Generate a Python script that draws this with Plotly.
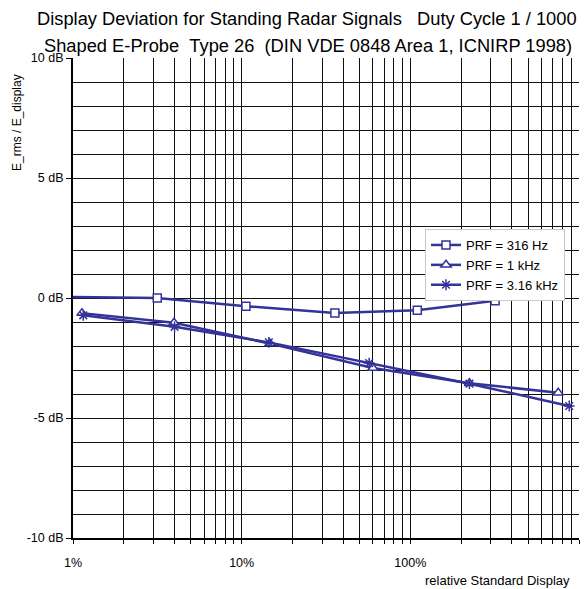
import plotly.graph_objects as go

# relative standard display (%) and display deviation (dB) per pulse repetition frequency
x_316hz = [0.316, 3.16, 10.6, 35.7, 110, 318]
y_316hz = [0.08, 0.0, -0.34, -0.62, -0.51, -0.11]

x_1khz = [1.13, 3.97, 14.7, 60, 224, 753]
y_1khz = [-0.63, -1.03, -1.9, -2.92, -3.55, -3.95]

x_316khz = [1.15, 4.0, 14.5, 57, 224, 875]
y_316khz = [-0.72, -1.2, -1.85, -2.71, -3.57, -4.5]

series_names = ["PRF = 316 Hz", "PRF = 1 kHz", "PRF = 3.16 kHz"]

x_tickvals = [1, 10, 100, 1000]
x_ticktext = ["1%", "10%", "100%", "1000%"]
x_minorvals = [m * d for d in (1, 10, 100) for m in range(2, 10)]

y_tickvals = [-10, -5, 0, 5, 10]
y_ticktext = ["-10 dB", "-5 dB", "0 dB", "5 dB", "10 dB"]
y_gridvals = list(range(-9, 10))

FONT = "Arial, Liberation Sans, sans-serif"
BLUE = "#333399"

fig = go.Figure()
fig.add_trace(go.Scatter(
    x=x_316hz, y=y_316hz, name=series_names[0], mode="lines+markers",
    line=dict(color=BLUE, width=2.5),
    marker=dict(symbol="square", size=8, color="white", line=dict(color=BLUE, width=1.5)),
))
fig.add_trace(go.Scatter(
    x=x_1khz, y=y_1khz, name=series_names[1], mode="lines+markers",
    line=dict(color=BLUE, width=2.5),
    marker=dict(symbol="triangle-up", size=9, color="white", line=dict(color=BLUE, width=1.5)),
))
fig.add_trace(go.Scatter(
    x=x_316khz, y=y_316khz, name=series_names[2], mode="lines+markers",
    line=dict(color=BLUE, width=2.5),
    marker=dict(symbol="asterisk-open", size=9, color=BLUE, line=dict(color=BLUE, width=1.5)),
))

L, R, T, B = 73, 7, 58, 51
W, H = 586, 589
pw, ph = W - L - R, H - T - B


def px(xp):
    return (xp - L) / pw


def py(yp):
    return (H - B - yp) / ph


fig.update_layout(
    width=W, height=H,
    margin=dict(l=L, r=R, t=T, b=B, pad=0),
    paper_bgcolor="white", plot_bgcolor="white",
    font=dict(family=FONT, size=12, color="black"),
    showlegend=True,
    legend=dict(
        x=px(425), y=py(229), xanchor="left", yanchor="top",
        bgcolor="white", bordercolor="#c8c8c8", borderwidth=1,
        font=dict(family=FONT, size=13, color="black"),
        itemwidth=30, tracegroupgap=0,
    ),
    xaxis=dict(
        type="log", range=[0, 3],
        tickmode="array", tickvals=x_tickvals, ticktext=x_ticktext,
        ticks="outside", ticklen=4, tickcolor="black",
        showgrid=True, gridcolor="#111", gridwidth=1,
        showline=True, linecolor="black", linewidth=2,
        zeroline=False, ticklabelstandoff=8,
        tickfont=dict(size=12.5),
        minor=dict(tickvals=x_minorvals, ticks="outside", ticklen=4, tickcolor="black",
                   showgrid=True, gridcolor="#111", gridwidth=1),
    ),
    yaxis=dict(
        range=[-10, 10],
        tickmode="array", tickvals=y_tickvals, ticktext=y_ticktext,
        ticks="outside", ticklen=5, tickcolor="black",
        showgrid=False,
        showline=True, linecolor="black", linewidth=2,
        zeroline=False, tickfont=dict(size=12.5),
    ),
    # 1 dB horizontal grid (no line along the top edge)
    yaxis2=dict(
        overlaying="y", range=[-10, 10],
        tickmode="array", tickvals=y_gridvals,
        showticklabels=False, ticks="",
        showgrid=True, gridcolor="#111", gridwidth=1,
        showline=False, zeroline=False,
    ),
)

# invisible trace that activates the grid axis
fig.add_trace(go.Scatter(x=[x_1khz[0]], y=[y_1khz[0]], yaxis="y2", mode="markers",
                         marker=dict(opacity=0), showlegend=False, hoverinfo="skip"))

annotations = [
    dict(text="Display Deviation for Standing Radar Signals\u00a0\u00a0\u00a0Duty Cycle 1 / 1000",
         x=px(307), y=py(19), font=dict(size=18.3)),
    dict(text="Shaped E-Probe\u00a0\u00a0Type 26\u00a0\u00a0(DIN VDE 0848 Area 1, ICNIRP 1998)",
         x=px(308), y=py(45.5), font=dict(size=18.3)),
    dict(text="relative Standard Display", x=px(572), y=py(580), xanchor="right",
         font=dict(size=13)),
    dict(text="E_rms / E_display", x=px(17), y=py(123), textangle=-90,
         font=dict(size=12)),
]
for a in annotations:
    a.setdefault("xanchor", "center")
    fig.add_annotation(xref="paper", yref="paper", yanchor="middle", showarrow=False, **a)

fig.write_html("out.html")
